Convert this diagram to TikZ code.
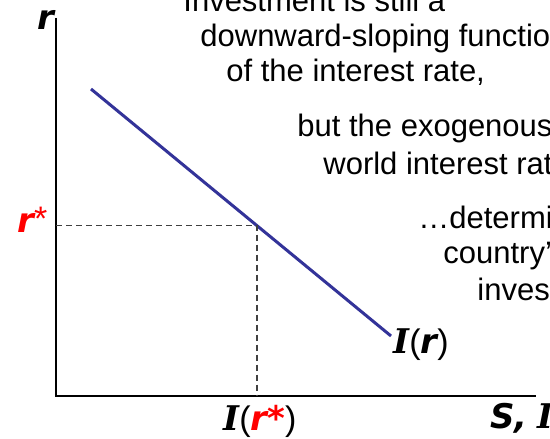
\documentclass[tikz,border=0pt]{standalone}
\usepackage{fontspec}
\setmainfont{Liberation Sans}
\newfontfamily\labsans{DejaVu Sans}
\newfontfamily\labserif{DejaVu Serif}
\definecolor{curveblue}{RGB}{51,51,153}
\definecolor{guidegray}{RGB}{64,64,64}
\newcommand{\capI}{{\labserif\bfseries\itshape I}}
\newcommand{\smr}{{\labsans\bfseries\itshape r}}

\begin{document}
\begin{tikzpicture}[x=0.5pt, y=-0.5pt,
    axis/.style={line width=1pt, black},
    curve/.style={line width=1.5pt, curveblue},
    guide/.style={line width=0.6pt, guidegray, dash pattern=on 3pt off 2pt},
    txt/.style={anchor=base west, inner sep=0pt, font=\fontsize{15.5}{18}\selectfont},
    lab/.style={anchor=base west, inner sep=0pt, font=\fontsize{17}{20}\selectfont}
  ]
  \clip (0,0) rectangle (550,438);
  \fill[white] (0,0) rectangle (550,438);
  % axes
  \coordinate (origin) at (56,396);
  \coordinate (ytop) at (56,18);
  \coordinate (xend) at (536,396);
  \draw[axis] (ytop) -- (origin) -- (xend);
  % investment schedule and the world rate
  \coordinate (ihigh) at (91,89);
  \coordinate (ilow) at (391,336);
  \coordinate (eq) at (257,225.5);
  \draw[curve] (ihigh) -- (ilow);
  \draw[guide] (origin |- eq) -- (eq) -- (eq |- origin);
  % labels
  \node[lab] (rlab) at (37,30) {\smr};
  \node[lab, red] (rstar) at (17,232) {\smr\raisebox{1pt}{*}};
  \node[lab] (irlab) at (393,353) {\capI(\smr)};
  \node[lab] (irstar) at (223,430) {\capI({\color{red}\labsans\bfseries\itshape r*})};
  \node[lab] (silab) at (490,428) {{\labsans\bfseries\itshape S,} \capI};
  % notes
  \node[txt] (n1) at (183,12) {Investment is still a};
  \node[txt] (n2) at (200,47) {downward-sloping function};
  \node[txt] (n3) at (226,82) {of the interest rate,};
  \node[txt] (n4) at (297,137) {but the exogenous};
  \node[txt] (n5) at (323,175) {world interest rate{\ldots}};
  \node[txt] (n6) at (418,228) {\ldots determines the};
  \node[txt] (n7) at (443,263) {country’s level of};
  \node[txt] (n8) at (477,300) {investment.};
\end{tikzpicture}
\end{document}
